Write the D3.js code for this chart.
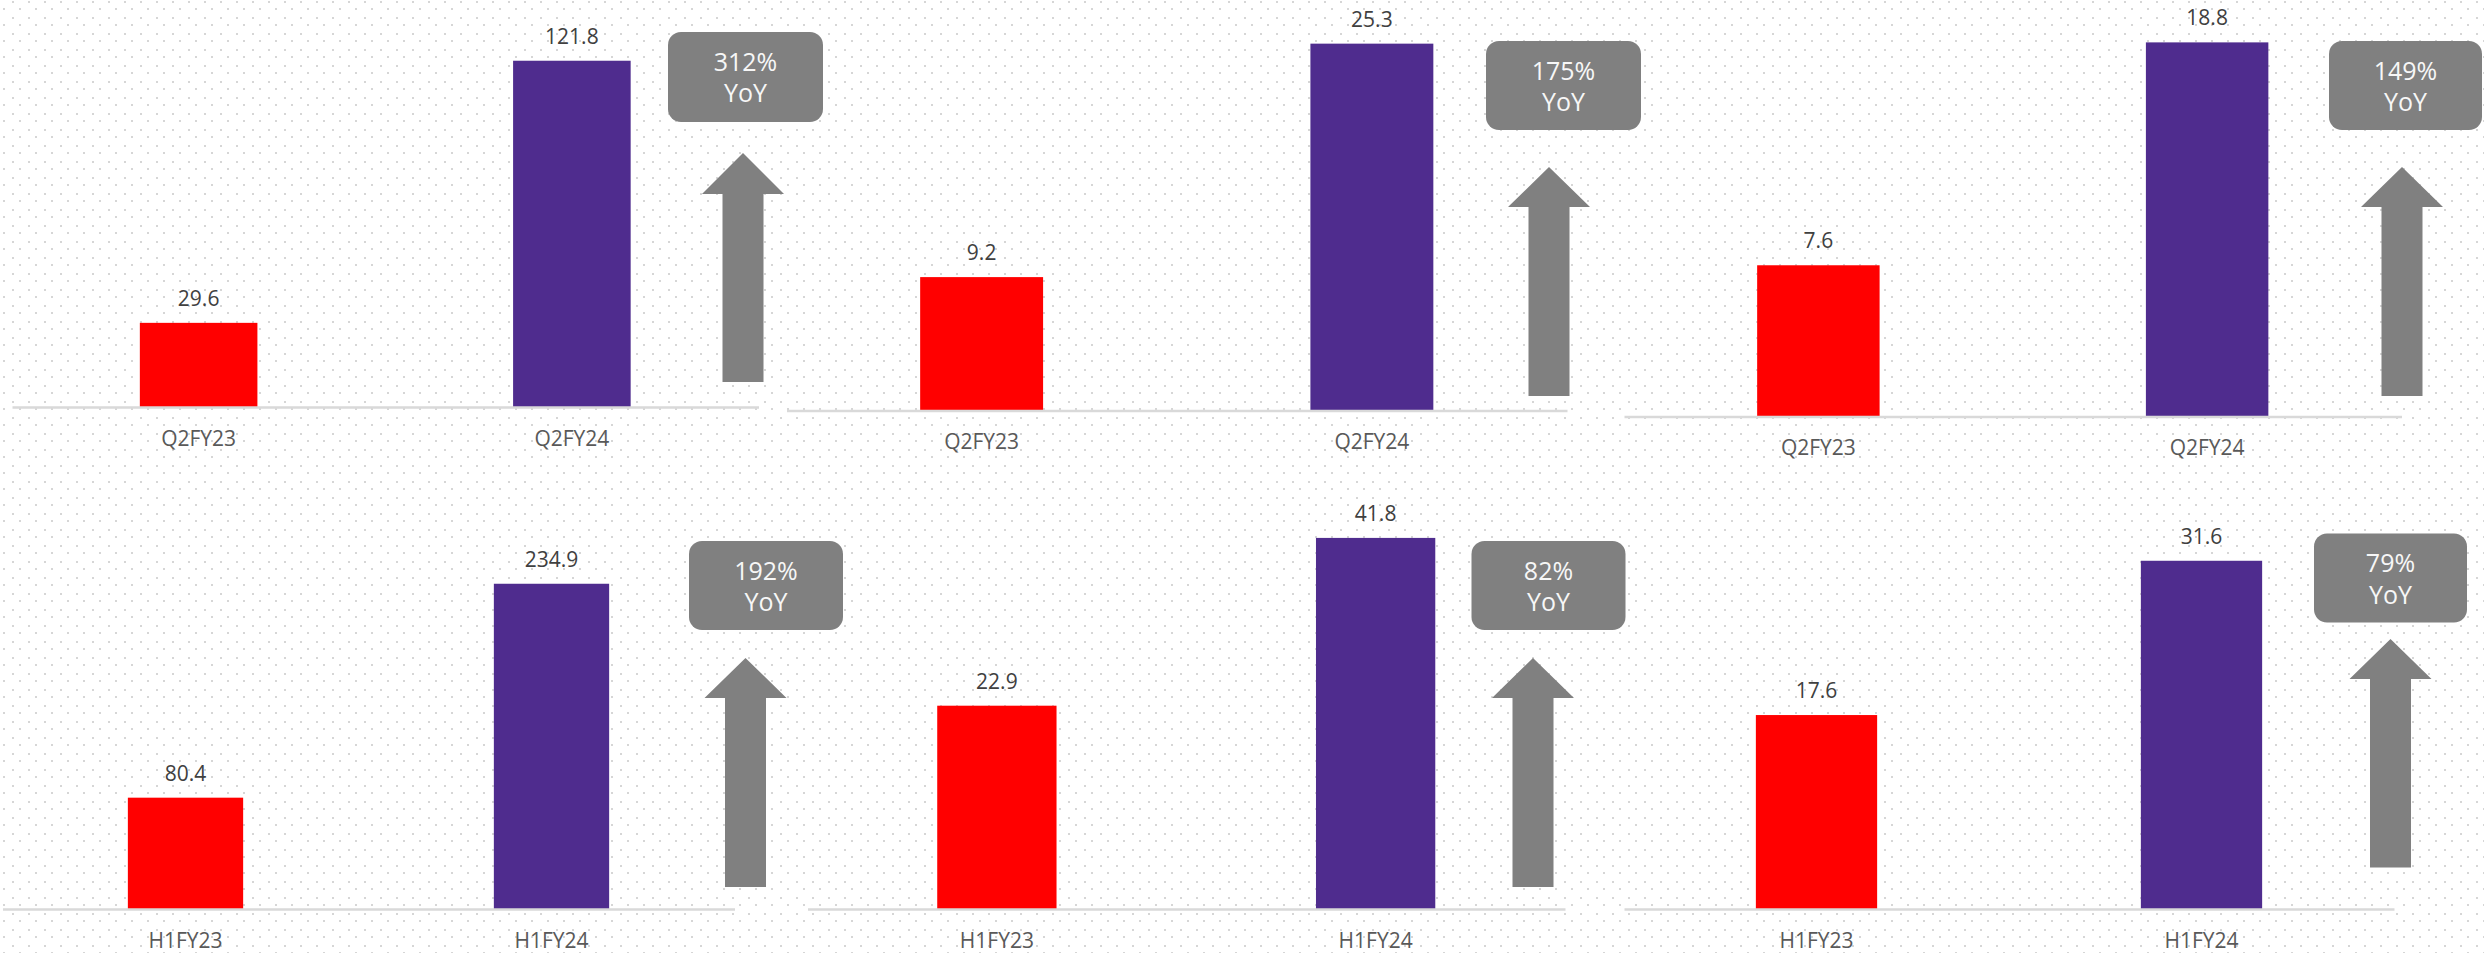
<!DOCTYPE html>
<html>
<head>
<meta charset="utf-8">
<script src="https://cdn.jsdelivr.net/npm/d3@7"></script>
<style>
    body { margin: 0; background: #fff; }
    svg { display: block; }
</style>
</head>
<body>
<div id="chart"></div>
<script>
// Data
const quarterCategories = ['Q2FY23', 'Q2FY24'];
const halfYearCategories = ['H1FY23', 'H1FY24'];
const fy23Values = [29.6, 9.2, 7.6, 80.4, 22.9, 17.6];
const fy24Values = [121.8, 25.3, 18.8, 234.9, 41.8, 31.6];
const yoyGrowth = ['312%', '175%', '149%', '192%', '82%', '79%'];
const axisMax = [140, 28, 20, 260, 45, 35];

// Layout of the six small charts (pixels)
const panelLayout = [
    { left: 12, right: 758.5, base: 407, top: 9 },
    { left: 786.5, right: 1567, base: 410.5, top: 4.5 },
    { left: 1624, right: 2401.5, base: 416.5, top: 18.5 },
    { left: 2.5, right: 734.5, base: 909, top: 549 },
    { left: 807.5, right: 1565, base: 909, top: 509.5 },
    { left: 1624, right: 2394, base: 909, top: 523.3 }
];
const badgeLayout = [
    { x: 668, y: 32, w: 155, h: 90 },
    { x: 1486, y: 41, w: 155, h: 89 },
    { x: 2329, y: 41, w: 153, h: 89 },
    { x: 689, y: 541, w: 154, h: 89 },
    { x: 1471.5, y: 541, w: 154, h: 89 },
    { x: 2314, y: 533.5, w: 153, h: 89 }
];
const arrowLayout = [
    { cx: 743, tip: 153, neck: 194, bottom: 382 },
    { cx: 1549, tip: 167, neck: 207, bottom: 396 },
    { cx: 2402, tip: 167, neck: 207, bottom: 396 },
    { cx: 745.5, tip: 658, neck: 698, bottom: 887 },
    { cx: 1533, tip: 658, neck: 698, bottom: 887 },
    { cx: 2390.5, tip: 639, neck: 679, bottom: 867.5 }
];

const barColors = ['#ff0000', '#4f2c8e'];
const font = '"Open Sans", sans-serif';
const width = 2484;
const height = 953;

const svg = d3.select('#chart')
    .append('svg')
    .attr('width', width)
    .attr('height', height);

// Dotted background
const pattern = svg.append('defs')
    .append('pattern')
    .attr('id', 'dots')
    .attr('patternUnits', 'userSpaceOnUse')
    .attr('width', 16)
    .attr('height', 16);
pattern.append('rect').attr('x', 3).attr('y', 8).attr('width', 2).attr('height', 2).attr('fill', '#d6d6d6');
pattern.append('rect').attr('x', 12).attr('y', 1).attr('width', 2).attr('height', 2).attr('fill', '#d6d6d6');

svg.append('rect')
    .attr('width', width)
    .attr('height', height)
    .attr('fill', '#fff');
svg.append('rect')
    .attr('width', width)
    .attr('height', height)
    .attr('fill', 'url(#dots)');

panelLayout.forEach((p, i) => {
    const categories = i < 3 ? quarterCategories : halfYearCategories;
    const data = [
        { cat: categories[0], value: fy23Values[i], color: barColors[0] },
        { cat: categories[1], value: fy24Values[i], color: barColors[1] }
    ];

    const x = d3.scaleBand()
        .domain(categories)
        .range([p.left, p.right])
        .paddingInner(0.685)
        .paddingOuter(0.3425);

    const y = d3.scaleLinear()
        .domain([0, axisMax[i]])
        .range([p.base, p.top]);

    const g = svg.append('g');

    // Bars
    g.selectAll('.bar')
        .data(data)
        .enter()
        .append('rect')
        .attr('class', 'bar')
        .attr('x', d => x(d.cat))
        .attr('y', d => y(d.value))
        .attr('width', x.bandwidth())
        .attr('height', d => y(0) - y(d.value))
        .attr('fill', d => d.color);

    // Category axis
    const axis = g.append('g')
        .attr('transform', `translate(0,${p.base})`)
        .call(d3.axisBottom(x).tickSize(0).tickPadding(24));
    axis.select('.domain')
        .attr('stroke', '#d9d9d9')
        .attr('stroke-width', 2.5);
    axis.selectAll('text')
        .style('font-family', font)
        .style('font-size', '21px')
        .style('fill', '#595959');

    // Value labels
    g.selectAll('.value')
        .data(data)
        .enter()
        .append('text')
        .attr('class', 'value')
        .attr('x', d => x(d.cat) + x.bandwidth() / 2)
        .attr('y', d => y(d.value) - 17)
        .attr('text-anchor', 'middle')
        .style('font-family', font)
        .style('font-size', '21px')
        .style('fill', '#404040')
        .text(d => d.value.toFixed(1));

    // Growth arrow
    const a = arrowLayout[i];
    const head = 41, shaft = 20.5;
    g.append('path')
        .attr('d', `M${a.cx},${a.tip} L${a.cx + head},${a.neck} L${a.cx + shaft},${a.neck}
            L${a.cx + shaft},${a.bottom} L${a.cx - shaft},${a.bottom} L${a.cx - shaft},${a.neck}
            L${a.cx - head},${a.neck} Z`)
        .attr('fill', '#808080');

    // YoY badge
    const b = badgeLayout[i];
    g.append('rect')
        .attr('x', b.x)
        .attr('y', b.y)
        .attr('width', b.w)
        .attr('height', b.h)
        .attr('rx', 13)
        .attr('fill', '#808080');

    const badgeText = g.append('text')
        .attr('text-anchor', 'middle')
        .style('font-family', font)
        .style('font-size', '25px')
        .style('fill', '#f7f7f7');
    badgeText.append('tspan')
        .attr('x', b.x + b.w / 2)
        .attr('y', b.y + 38.5)
        .text(yoyGrowth[i]);
    badgeText.append('tspan')
        .attr('x', b.x + b.w / 2)
        .attr('y', b.y + 70)
        .text('YoY');
});
</script>
</body>
</html>
